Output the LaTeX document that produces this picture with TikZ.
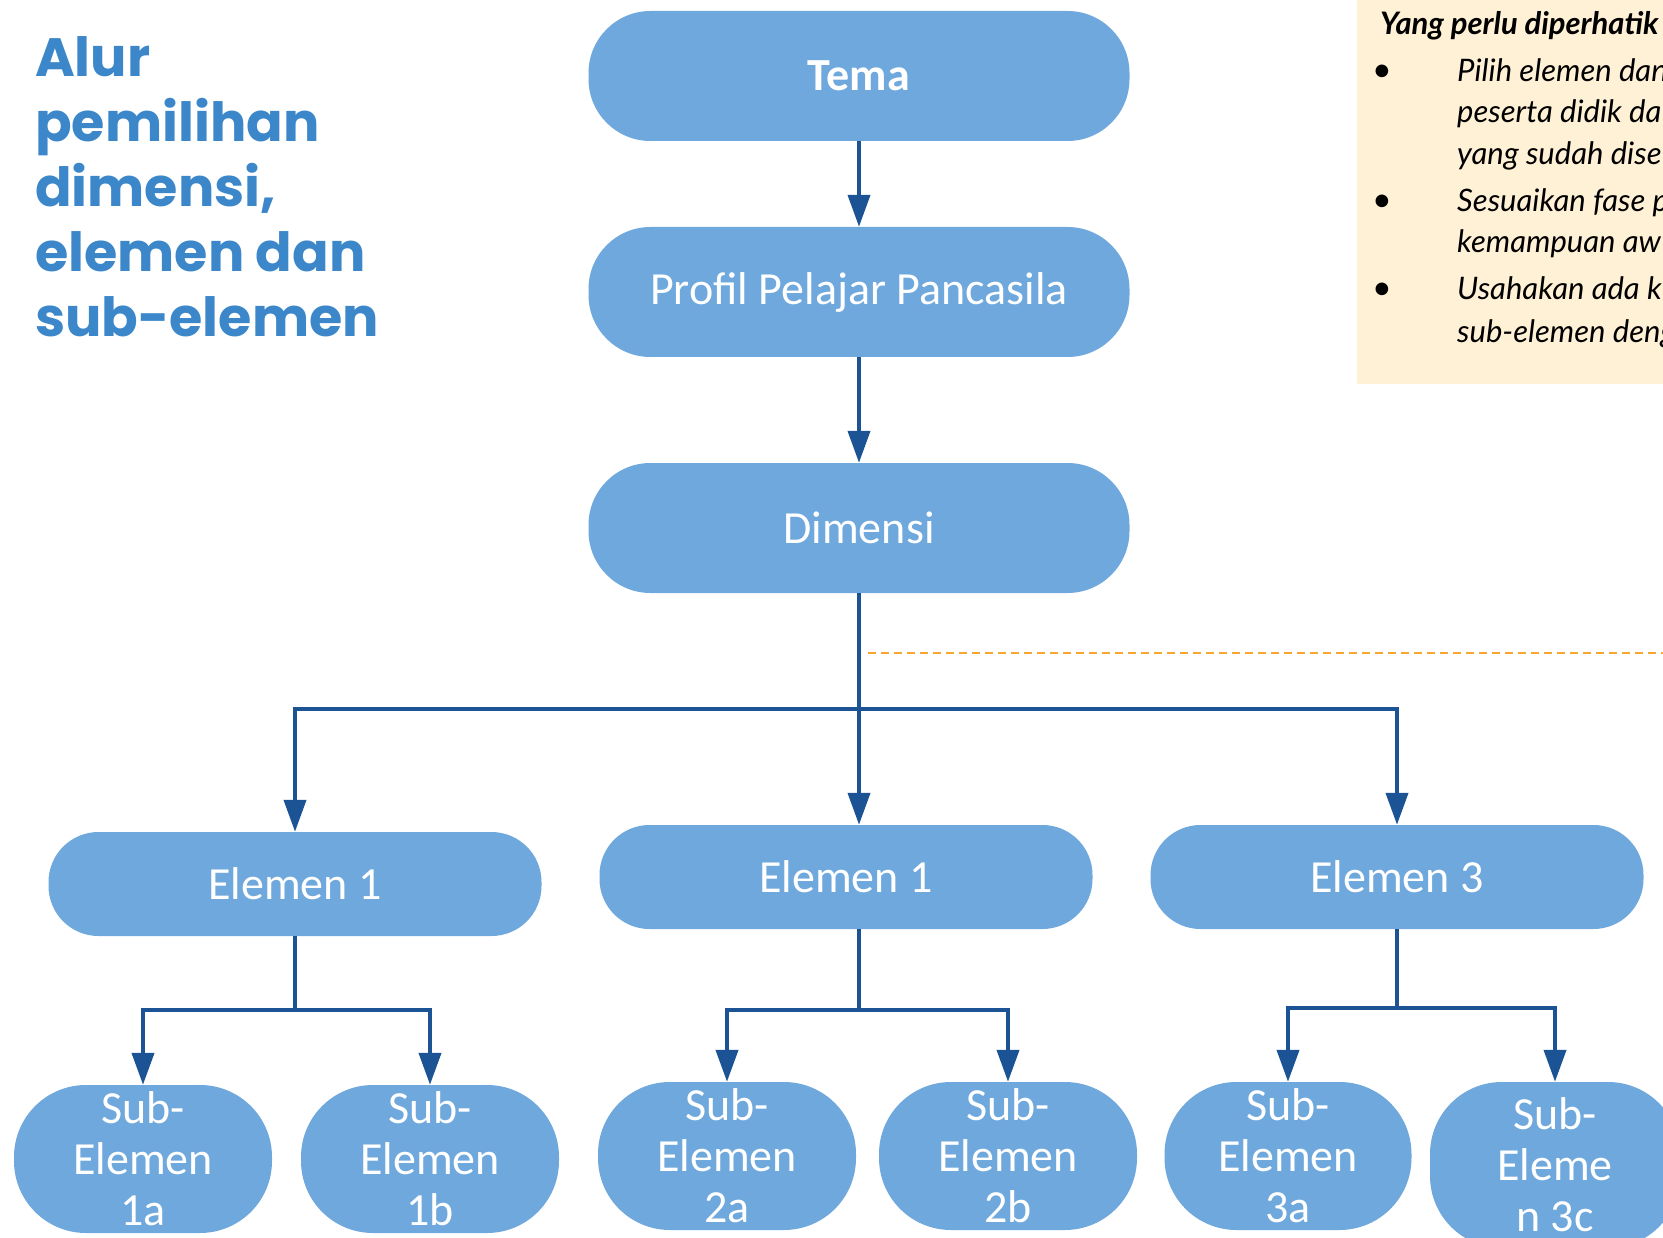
\documentclass[tikz,border=0pt]{standalone}
\usepackage{fontspec}
\setmainfont{Carlito}
\newfontfamily\titlefont{Poppins}
\newfontfamily\notefont{Lato}
\usetikzlibrary{arrows.meta}

\definecolor{boxblue}{HTML}{6FA8DC}
\definecolor{linkblue}{HTML}{1B5394}
\definecolor{titleblue}{HTML}{3C87C9}
\definecolor{cream}{HTML}{FFF1D6}
\definecolor{dashorange}{HTML}{F7A630}

\tikzset{
    pill/.style={rounded corners=62pt, fill=boxblue, text=white, minimum width=541pt, minimum height=130pt, font=\fontsize{46}{52}\selectfont},
    elem/.style={rounded corners=50pt, fill=boxblue, text=white, minimum width=493pt, minimum height=104pt, font=\fontsize{46}{52}\selectfont},
    subbox/.style={rounded corners=72pt, fill=boxblue, text=white, minimum width=258pt, minimum height=148pt, align=center, font=\fontsize{46}{51}\selectfont},
    link/.style={draw=linkblue, line width=4pt},
    arrow/.style={link, -{Triangle[length=32pt,width=22pt]}},
    note/.style={anchor=base west, inner sep=0pt, font=\notefont\itshape\fontsize{31}{36}\selectfont}
    }

\begin{document}
\begin{tikzpicture}[x=1pt, y=-1pt]
                \clip (0,0) rectangle (1663,1238);
                % The Title
                \node[anchor=base west, inner sep=0pt, align=left, text=titleblue, font=\titlefont\bfseries\fontsize{54}{65}\selectfont] (title) at (35,337) {Alur\\pemilihan\\dimensi,\\elemen dan\\sub-elemen};
                % The Note
                \fill[cream] (1357,0) rectangle (1663,384);
                \node[note, font=\notefont\bfseries\itshape\fontsize{31}{36}\selectfont] (head) at (1380,35) {Yang perlu diperhatik};
                \node[note, font=\notefont\fontsize{34}{36}\selectfont] (b1) at (1372,82) {•};
                \node[note] (t1) at (1457,82) {Pilih elemen dan};
                \node[note] (t2) at (1457,123) {peserta didik da};
                \node[note] (t3) at (1457,165) {yang sudah dise};
                \node[note, font=\notefont\fontsize{34}{36}\selectfont] (b2) at (1372,212) {•};
                \node[note] (t4) at (1457,212) {Sesuaikan fase p};
                \node[note] (t5) at (1457,253) {kemampuan aw};
                \node[note, font=\notefont\fontsize{34}{36}\selectfont] (b3) at (1372,300) {•};
                \node[note] (t6) at (1457,300) {Usahakan ada k};
                \node[note] (t7) at (1457,343) {sub-elemen deng};
                \draw[dashorange, line width=2.5pt, dash pattern=on 8pt off 5pt] (868,653) -- (1663,653);
                % The Tree
                \node[pill, font=\bfseries\fontsize{46}{52}\selectfont] (tema) at (859,76) {Tema};
                \node[pill] (profil) at (859,292) {Profil Pelajar Pancasila};
                \node[pill] (dimensi) at (859,528) {Dimensi};
                \node[elem] (el1) at (295,884) {Elemen 1};
                \node[elem] (el2) at (846,877) {Elemen 1};
                \node[elem] (el3) at (1397,877) {Elemen 3};
                \node[subbox] (s1a) at (143,1159) {Sub-\\Elemen\\1a};
                \node[subbox] (s1b) at (430,1159) {Sub-\\Elemen\\1b};
                \node[subbox] (s2a) at (727,1156) {Sub-\\Elemen\\2a};
                \node[subbox] (s2b) at (1008,1156) {Sub-\\Elemen\\2b};
                \node[subbox, minimum width=247pt] (s3a) at (1288,1156) {Sub-\\Elemen\\3a};
                \node[subbox, minimum width=250pt, minimum height=166pt] (s3c) at (1555,1165) {Sub-\\Eleme\\n 3c};
                % The Links
                \coordinate (split) at (859,709);
                \draw[arrow] (tema) -- (profil);
                \draw[arrow] (profil) -- (dimensi);
                \draw[link] (dimensi) -- (split);
                \draw[arrow] (split) -| (el1);
                \draw[arrow] (split) -| (el3);
                \draw[arrow] (split) -- (split |- el2.north);
                \coordinate (j1) at (295,1010);
                \draw[link] (el1) -- (j1);
                \draw[arrow] (j1) -| (s1a);
                \draw[arrow] (j1) -| (s1b);
                \coordinate (j2) at (859,1010);
                \draw[link] (j2 |- el2.south) -- (j2);
                \draw[arrow] (j2) -| (s2a);
                \draw[arrow] (j2) -| (s2b);
                \coordinate (j3) at (1397,1008);
                \draw[link] (el3) -- (j3);
                \draw[arrow] (j3) -| (s3a);
                \draw[arrow] (j3) -| (s3c);
\end{tikzpicture}
\end{document}
